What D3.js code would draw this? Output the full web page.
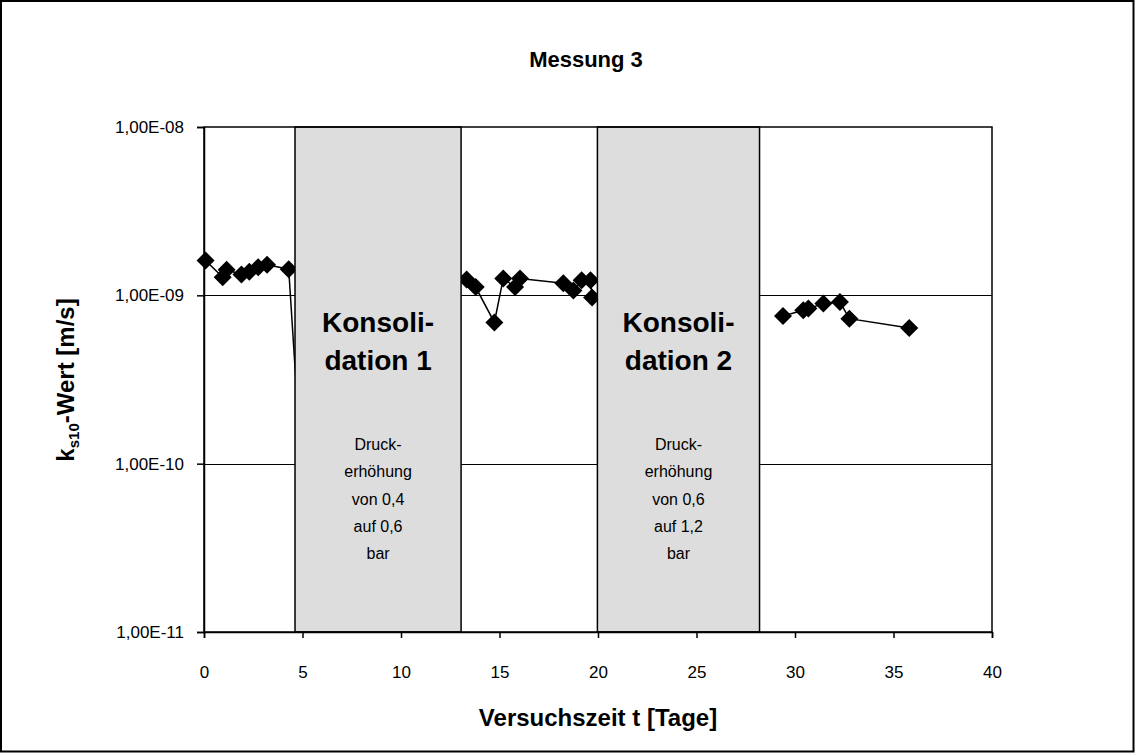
<!DOCTYPE html>
<html>
<head>
<meta charset="utf-8">
<script src="https://cdn.jsdelivr.net/npm/d3@7"></script>
<style>
  body { margin: 0; background: #fff; }
  text { font-family: "Liberation Sans", Arial, sans-serif; }
</style>
</head>
<body>
<svg id="chart" width="1135" height="753"></svg>
<script>
// ---- data ----
const title = "Messung 3";
const xLabel = "Versuchszeit t [Tage]";
const xTicks = [0, 5, 10, 15, 20, 25, 30, 35, 40];
const yTicks = [1e-8, 1e-9, 1e-10, 1e-11];
const yTickLabels = ["1,00E-08", "1,00E-09", "1,00E-10", "1,00E-11"];

const series1T = [0.08, 0.95, 1.15, 1.9, 2.3, 2.75, 3.2, 4.3, 5.1];
const series1K = [1.61e-9, 1.28e-9, 1.42e-9, 1.33e-9, 1.38e-9, 1.47e-9, 1.52e-9, 1.43e-9, 5e-11];
const series2T = [13.33, 13.79, 14.74, 15.19, 15.79, 16.04, 18.24, 18.75, 19.17, 19.62, 19.7];
const series2K = [1.24e-9, 1.12e-9, 6.9e-10, 1.26e-9, 1.12e-9, 1.26e-9, 1.18e-9, 1.07e-9, 1.23e-9, 1.23e-9, 0.97e-9];
const series3T = [29.39, 30.42, 30.68, 31.44, 32.28, 32.76, 35.8];
const series3K = [7.54e-10, 8.15e-10, 8.34e-10, 8.93e-10, 9.12e-10, 7.27e-10, 6.4e-10];

const phaseStart = [4.62, 19.97];
const phaseEnd = [13.05, 28.2];
const phaseTitle = [["Konsoli-", "dation 1"], ["Konsoli-", "dation 2"]];
const phaseText = [["Druck-", "erhöhung", "von 0,4", "auf 0,6", "bar"],
                   ["Druck-", "erhöhung", "von 0,6", "auf 1,2", "bar"]];

// ---- layout ----
const svg = d3.select("#chart");
const W = 1135, H = 753;
const plot = { left: 204, right: 992, top: 127, bottom: 632 };

const x = d3.scaleLinear().domain([0, 40]).range([plot.left, plot.right]);
const y = d3.scaleLog().domain([1e-11, 1e-8]).range([plot.bottom, plot.top]);

// outer frame
svg.append("rect").attr("x", 1).attr("y", 1).attr("width", W - 2.5).attr("height", H - 2.5)
  .attr("fill", "#fff").attr("stroke", "#000").attr("stroke-width", 2);

// gridlines
svg.append("g").selectAll("line").data(yTicks.slice(1, 3)).join("line")
  .attr("x1", plot.left).attr("x2", plot.right)
  .attr("y1", d => Math.round(y(d)) + 0.5).attr("y2", d => Math.round(y(d)) + 0.5)
  .attr("stroke", "#000").attr("stroke-width", 1);

// series
const seriesList = [
  series1T.map((t, i) => [t, series1K[i]]),
  series2T.map((t, i) => [t, series2K[i]]),
  series3T.map((t, i) => [t, series3K[i]])
];
const line = d3.line().x(d => x(d[0])).y(d => y(d[1]));
const diamond = "M0,-9L9,0L0,9L-9,0Z";
const gS = svg.append("g");
seriesList.forEach(s => {
  gS.append("path").datum(s).attr("d", line)
    .attr("fill", "none").attr("stroke", "#000").attr("stroke-width", 1.5);
  gS.selectAll(null).data(s).join("path")
    .attr("d", diamond)
    .attr("transform", d => `translate(${x(d[0])},${y(d[1])})`)
    .attr("fill", "#000");
});

// consolidation phases
phaseStart.forEach((s, i) => {
  const x0 = x(s), x1 = x(phaseEnd[i]);
  svg.append("rect").attr("x", x0).attr("y", plot.top).attr("width", x1 - x0)
    .attr("height", plot.bottom - plot.top)
    .attr("fill", "#dddddd").attr("stroke", "#000").attr("stroke-width", 1.5);
  const cx = (x0 + x1) / 2;
  svg.append("g").selectAll("text").data(phaseTitle[i]).join("text")
    .attr("x", cx).attr("y", (d, j) => 332 + j * 38)
    .attr("text-anchor", "middle").attr("font-weight", "bold").attr("font-size", 28)
    .text(d => d);
  svg.append("g").selectAll("text").data(phaseText[i]).join("text")
    .attr("x", cx).attr("y", (d, j) => 450 + j * 27.3)
    .attr("text-anchor", "middle").attr("font-size", 16)
    .text(d => d);
});

// plot border
svg.append("rect").attr("x", plot.left).attr("y", plot.top)
  .attr("width", plot.right - plot.left).attr("height", plot.bottom - plot.top)
  .attr("fill", "none").attr("stroke", "#000").attr("stroke-width", 1.5);

// axes
const xAxis = d3.axisBottom(x).tickValues(xTicks).tickSize(6).tickPadding(28).tickFormat(d3.format("d"));
const gx = svg.append("g").attr("transform", `translate(0,${plot.bottom})`).call(xAxis);
const yAxis = d3.axisLeft(y).tickValues(yTicks).tickSize(7).tickPadding(13)
  .tickFormat((d, i) => yTickLabels[i]);
const gy = svg.append("g").attr("transform", `translate(${plot.left},0)`).call(yAxis);
[gx, gy].forEach(g => {
  g.select(".domain").attr("stroke-width", 1.5);
  g.selectAll(".tick line").attr("stroke-width", 1.5);
  g.selectAll(".tick text").attr("font-size", 17).attr("font-family", "Liberation Sans, Arial, sans-serif").attr("fill", "#000");
});

// title
svg.append("text").attr("x", 586).attr("y", 67).attr("text-anchor", "middle")
  .attr("font-weight", "bold").attr("font-size", 22).text(title);

// x label
svg.append("text").attr("x", 598).attr("y", 726).attr("text-anchor", "middle")
  .attr("font-weight", "bold").attr("font-size", 24).text(xLabel);

// y label with subscript
const yl = svg.append("text").attr("transform", "translate(74,380) rotate(-90)")
  .attr("text-anchor", "middle").attr("font-weight", "bold").attr("font-size", 24);
yl.append("tspan").text("k");
yl.append("tspan").attr("font-size", 15).attr("dy", 5).text("s10");
yl.append("tspan").attr("dy", -5).text("-Wert [m/s]");
</script>
</body>
</html>
